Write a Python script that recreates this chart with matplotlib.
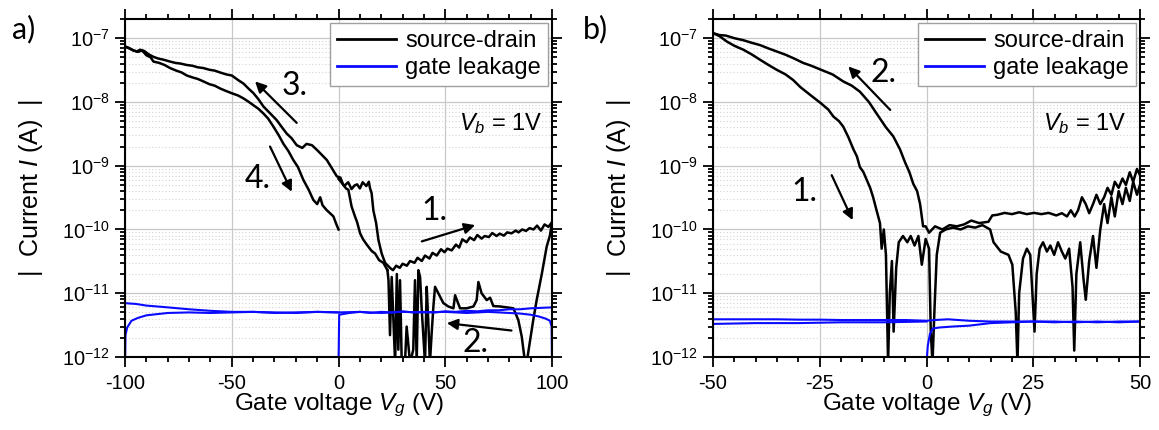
"""
Transfer curves of the two devices, source-drain and gate leakage current
"""
import matplotlib
matplotlib.use("Agg")
import matplotlib.pyplot as plt
from matplotlib.lines import Line2D
from matplotlib.ticker import MultipleLocator, LogLocator, NullFormatter

plt.rcParams['font.family'] = ['Liberation Sans', 'DejaVu Sans']
plt.rcParams['mathtext.fontset'] = 'custom'
plt.rcParams['mathtext.rm'] = 'Liberation Sans'
plt.rcParams['mathtext.it'] = 'Liberation Sans:italic'
plt.rcParams['axes.unicode_minus'] = False

SD_COLOR = "#000000"
GATE_COLOR = "#0a0aff"
GRID_COLOR = "#c8c8c8"
NOTE_FONT = ['Lato', 'DejaVu Sans']

# ---- panel a: sweeps 0 -> 100 -> -100 -> 0 V
a_fwd_v = [0, 1.5, 2.6, 4.5, 6.1, 7.5, 8.7, 10, 11.3, 13, 14.2, 14.7, 15.5, 16.3, 17.6,
           18.7, 20.2, 21.8, 24.1, 25.5, 27, 28.7, 30, 32, 33.5, 35.6, 37, 39, 40.5, 42.6,
           44, 46, 48, 49.6, 51, 53, 55, 56.5, 58, 60, 61.5, 63.5, 65, 67, 68.5, 70.4,
           72, 74, 75.5, 77.4, 79, 81, 83, 84.3, 86, 87.8, 89.5, 91.3, 93, 94.8, 96.5,
           98.3, 100]
a_fwd_i = [6.2e-10, 5.4e-10, 4.8e-10, 5.5e-10, 4.3e-10, 4.9e-10, 5.1e-10, 4.4e-10, 5.5e-10,
           4.8e-10, 5.6e-10, 4.5e-10, 3.7e-10, 2.0e-10, 1.26e-10, 6.8e-11, 4.2e-11, 3.0e-11,
           2.5e-11, 2.3e-11, 2.7e-11, 2.5e-11, 2.9e-11, 2.7e-11, 3.2e-11, 3.0e-11, 3.6e-11,
           3.2e-11, 3.9e-11, 3.5e-11, 4.3e-11, 3.9e-11, 4.9e-11, 4.4e-11, 5.0e-11, 4.7e-11,
           5.8e-11, 5.2e-11, 7.0e-11, 6.3e-11, 7.5e-11, 6.8e-11, 8.2e-11, 7.2e-11, 7.9e-11,
           7.6e-11, 8.8e-11, 7.9e-11, 8.6e-11, 8.0e-11, 9.0e-11, 8.7e-11, 9.6e-11, 9.0e-11,
           1.0e-10, 9.5e-11, 1.05e-10, 1.0e-10, 1.15e-10, 9.6e-11, 1.2e-10, 1.1e-10, 1.3e-10]

a_back_v = [100, 99, 97.5, 95.2, 92.8, 91.2, 89.7, 88.1, 87.4, 85.8, 84.2, 81.9, 78.8, 75.6,
            72.5, 71, 69.4, 67, 65.5, 64.7, 63.2, 60, 56.9, 54.6, 53.8, 51.4, 49.1, 47.5,
            45.2, 44.4, 43.6, 42.8, 42, 41.3, 40.5, 38.9, 38.2, 37.4, 36.6, 35.8, 35, 33.5,
            31.9, 31.1, 29.6, 28.8, 28, 27.3, 26.5, 24.9, 24.1, 23.4, 22.9]
a_back_i = [1.3e-10, 8e-11, 5.4e-11, 2.0e-11, 7.8e-12, 3.8e-12, 1.8e-12, 8e-13, 8e-13, 2.1e-12,
            3.8e-12, 5.8e-12, 6.0e-12, 6.2e-12, 6.3e-12, 8.5e-12, 7.8e-12, 1.0e-11, 1.5e-11,
            7.8e-12, 6.2e-12, 5.8e-12, 5.8e-12, 9.3e-12, 5.8e-12, 6.2e-12, 7.0e-12, 8.9e-12,
            1.26e-11, 6.0e-12, 2.3e-12, 8e-13, 3.8e-12, 1.26e-11, 8e-13, 6.0e-12, 1.8e-11,
            2.3e-11, 8e-13, 1.6e-11, 1.3e-12, 8e-13, 3.0e-12, 8e-13, 8e-13, 1.6e-11, 1.3e-12,
            2.0e-11, 8e-13, 1.8e-11, 2.2e-12, 1.6e-11, 2.3e-11]

a_up_v = [22.9, 21, 19, 17.1, 15.5, 13.2, 11.5, 10.1, 8.7, 7.7, 6.1, 4.6, 3.5, 2, 0.9, -0.8,
          -3, -5.5, -8, -10.2, -12.5, -15, -17, -19.6, -22, -24.3, -26.5, -29, -32, -35.2,
          -37.5, -39.9, -42, -44.6, -47, -50, -52.5, -55.5, -58, -60.5, -63.3, -66, -68.5,
          -71.1, -74, -76.5, -78.9, -82, -84.5, -86.7, -89, -91, -92.9, -94.5, -96.5, -98, -100]
a_up_i = [2.3e-11, 3.0e-11, 3.3e-11, 4.2e-11, 4.6e-11, 5.8e-11, 7.0e-11, 8.7e-11, 1.3e-10,
          1.6e-10, 2.3e-10, 4.2e-10, 4.4e-10, 5.2e-10, 6.5e-10, 6.8e-10, 9.0e-10, 1.23e-9,
          1.5e-9, 1.78e-9, 2.1e-9, 2.2e-9, 1.9e-9, 2.1e-9, 2.7e-9, 3.2e-9, 4.0e-9, 5.2e-9,
          6.6e-9, 8.5e-9, 1.1e-8, 1.38e-8, 1.6e-8, 1.95e-8, 2.2e-8, 2.6e-8, 2.7e-8, 2.9e-8,
          3.1e-8, 3.2e-8, 3.4e-8, 3.5e-8, 3.7e-8, 3.8e-8, 4.0e-8, 4.1e-8, 4.3e-8, 4.6e-8,
          4.8e-8, 5.1e-8, 5.6e-8, 6.3e-8, 6.6e-8, 6.2e-8, 6.5e-8, 6.9e-8, 7.4e-8]

a_down_v = [-100, -98, -96, -94, -92, -90, -88, -86.7, -84, -81.5, -78.9, -76, -73.5, -71.1,
            -68, -66, -63.3, -60.5, -58, -55.5, -53, -50, -47, -44.6, -42, -39.9, -37.5,
            -35.2, -33, -30.5, -28, -25.8, -23.5, -21.2, -19, -16.5, -14, -11.8, -10, -8.6,
            -7.5, -5.5, -4, -2.4, -1, 0]
a_down_i = [7.4e-8, 7.0e-8, 6.4e-8, 6.1e-8, 6.4e-8, 5.4e-8, 5.0e-8, 4.3e-8, 4.1e-8, 3.8e-8,
            3.4e-8, 3.1e-8, 2.9e-8, 2.6e-8, 2.4e-8, 2.3e-8, 2.1e-8, 1.9e-8, 1.8e-8, 1.63e-8,
            1.5e-8, 1.37e-8, 1.26e-8, 1.14e-8, 1.0e-8, 8.9e-9, 7.8e-9, 6.6e-9, 5.5e-9, 4.1e-9,
            3.0e-9, 2.2e-9, 1.7e-9, 1.23e-9, 9.5e-10, 6.0e-10, 4.2e-10, 2.9e-10, 2.5e-10,
            3.2e-10, 2.4e-10, 2.0e-10, 1.8e-10, 1.6e-10, 1.2e-10, 1.0e-10]

a_gate_fwd_v = [0, 0.3, 5, 10, 15, 20, 25, 30, 35, 40, 45, 50, 55, 60, 65, 70, 75, 80, 85,
                90, 95, 100]
a_gate_fwd_i = [8e-13, 4.6e-12, 4.9e-12, 5.1e-12, 4.9e-12, 5.1e-12, 5.0e-12, 5.2e-12, 5.0e-12,
                5.1e-12, 5.0e-12, 5.2e-12, 5.1e-12, 5.3e-12, 5.2e-12, 5.4e-12, 5.4e-12,
                5.6e-12, 5.6e-12, 5.8e-12, 5.9e-12, 6.0e-12]
a_gate_back_v = [100, 99.8, 99, 97, 94, 90, 85, 80, 75, 70, 60, 50, 40, 30, 20, 10, 0, -10,
                 -20, -30, -40, -50, -60, -70, -80, -85, -90, -95, -98, -100]
a_gate_back_i = [8e-13, 3.0e-12, 3.7e-12, 4.0e-12, 4.3e-12, 4.6e-12, 4.8e-12, 4.9e-12, 5.0e-12,
                 5.1e-12, 4.9e-12, 5.1e-12, 5.0e-12, 5.1e-12, 4.9e-12, 5.1e-12, 5.0e-12,
                 5.1e-12, 4.9e-12, 5.0e-12, 5.1e-12, 5.1e-12, 5.3e-12, 5.6e-12, 6.0e-12,
                 6.2e-12, 6.4e-12, 6.8e-12, 6.9e-12, 7.0e-12]
a_gate_down_v = [-100, -99.8, -99, -97, -94, -90, -85, -80, -70, -60, -50, -40, -30, -20, -10, 0]
a_gate_down_i = [8e-13, 2.2e-12, 2.9e-12, 3.7e-12, 4.1e-12, 4.5e-12, 4.7e-12, 4.9e-12, 5.0e-12,
                 4.9e-12, 5.0e-12, 5.1e-12, 4.9e-12, 5.0e-12, 5.1e-12, 5.0e-12]

# ---- panel b: sweeps -50 -> 50 -> -50 V
b_fwd_v = [-50, -48.5, -46.8, -45, -42.9, -41, -39, -37, -35.1, -33, -31.2, -29.5, -27.3,
           -24.7, -23, -21.8, -20.5, -19.5, -18.3, -17.1, -16.3, -15.6, -14.8, -14, -13.2,
           -12.5, -11.7, -10.9, -10.5, -10, -9.5, -9.0, -8.6, -8.1, -7.7, -7.1, -6.5, -5.5,
           -4.5, -3.7, -2.8, -1.9, -1.1, -0.2, 0.6, 1.0, 1.4, 1.9, 2.4, 3.2, 4.5, 6.2, 8, 9.7,
           11.4, 13.1, 14.9, 15.7, 17.4, 19.2, 20.1, 20.9, 21.3, 21.7, 22.6, 23.5, 24.3, 24.8,
           25.3, 25.8, 26.5, 27.3, 28.2, 29, 29.9, 30.8, 31.7, 32.5, 33.4, 34.2, 34.6, 35.1,
           36, 36.8, 37.3, 38.1, 39, 39.8, 40.7, 41.6, 42.4, 43.3, 44.1, 45, 45.9, 46.7, 47.6,
           48.4, 49.3, 50]
b_fwd_i = [1.2e-7, 1.08e-7, 8.9e-8, 7.6e-8, 6.6e-8, 5.6e-8, 4.6e-8, 3.8e-8, 3.2e-8, 2.7e-8,
           2.2e-8, 1.7e-8, 1.3e-8, 9.5e-9, 7.6e-9, 5.9e-9, 5.0e-9, 4.1e-9, 2.8e-9, 1.8e-9,
           1.4e-9, 9.5e-10, 8.0e-10, 6.0e-10, 4.5e-10, 3.2e-10, 2.0e-10, 1.26e-10, 5.0e-11,
           1.0e-10, 4.0e-11, 8e-13, 1.0e-11, 3.2e-11, 2.5e-12, 2.5e-11, 6.3e-11, 7.9e-11,
           6.3e-11, 7.9e-11, 5.6e-11, 7.9e-11, 2.8e-11, 7.1e-11, 5.0e-11, 2.5e-12, 8e-13,
           6.3e-12, 4.0e-11, 8.9e-11, 1.0e-10, 1.07e-10, 1.0e-10, 1.12e-10, 1.07e-10, 1.17e-10,
           1.0e-10, 6.3e-11, 4.5e-11, 4.0e-11, 2.8e-11, 5.0e-12, 8e-13, 1.0e-11, 3.5e-11,
           5.0e-11, 4.0e-11, 1.0e-11, 2.5e-12, 2.0e-11, 5.0e-11, 6.3e-11, 4.5e-11, 5.6e-11,
           4.0e-11, 6.3e-11, 4.5e-11, 3.5e-11, 5.0e-11, 1.26e-11, 1.26e-12, 2.0e-11, 6.3e-11,
           1.6e-11, 7.9e-12, 3.2e-11, 7.9e-11, 2.5e-11, 1.0e-10, 2.5e-10, 1.26e-10, 3.2e-10,
           1.6e-10, 4.0e-10, 2.5e-10, 4.5e-10, 2.8e-10, 5.6e-10, 3.5e-10, 5.0e-10]

b_back_v = [50, 49.3, 48.4, 47.6, 46.7, 45.9, 45, 44.1, 43.3, 42.4, 41.6, 40.7, 39.8, 39,
            38.1, 37.3, 36.4, 35.5, 34.7, 33.8, 32.9, 31.7, 30.4, 28.6, 26.9, 25.2, 23.5,
            21.7, 20, 18.3, 16.6, 15.4, 14.5, 12.3, 10.5, 8.8, 7.1, 5.4, 3.7, 2, 0.6, -0.2,
            -0.8, -1.5, -2.2, -3.1, -4, -5, -6.2, -7.8, -9.5, -11.7, -13.5, -15.6, -17.5,
            -19.5, -22, -24.7, -27, -28.9, -31, -33, -35.1, -37, -39, -41, -42.9, -45, -47,
            -48.5, -50]
b_back_i = [7.1e-10, 8.9e-10, 5.6e-10, 7.9e-10, 5.0e-10, 6.3e-10, 4.5e-10, 5.6e-10, 3.5e-10,
            4.5e-10, 3.2e-10, 2.5e-10, 3.5e-10, 2.5e-10, 1.8e-10, 2.5e-10, 3.2e-10, 2.0e-10,
            1.6e-10, 2.0e-10, 1.6e-10, 1.8e-10, 1.66e-10, 1.82e-10, 1.74e-10, 1.82e-10,
            1.74e-10, 1.86e-10, 1.74e-10, 1.82e-10, 1.7e-10, 1.66e-10, 1.32e-10, 1.26e-10,
            1.38e-10, 1.2e-10, 1.12e-10, 1.17e-10, 1.0e-10, 1.12e-10, 8.9e-11, 1.12e-10,
            1.12e-10, 2.5e-10, 4.0e-10, 5.2e-10, 7.9e-10, 1.12e-9, 1.8e-9, 2.9e-9, 4.0e-9,
            6.6e-9, 1.0e-8, 1.45e-8, 1.8e-8, 2.1e-8, 2.7e-8, 3.2e-8, 3.7e-8, 4.1e-8, 4.8e-8,
            5.5e-8, 6.2e-8, 6.9e-8, 7.8e-8, 8.5e-8, 9.3e-8, 1.0e-7, 1.1e-7, 1.12e-7, 1.2e-7]

b_gate_fwd_v = [0, 0.3, 0.8, 1.5, 3, 6, 10, 15, 20, 25, 30, 35, 40, 45, 50]
b_gate_fwd_i = [8e-13, 1.5e-12, 2.3e-12, 2.8e-12, 2.9e-12, 3.0e-12, 3.1e-12, 3.4e-12, 3.5e-12,
                3.6e-12, 3.5e-12, 3.6e-12, 3.5e-12, 3.6e-12, 3.6e-12]
b_gate_back_v = [50, 45, 40, 35, 30, 25, 20, 15, 10, 5, 2, 0, -5, -10, -15, -20, -25, -30,
                 -35, -40, -45, -50]
b_gate_back_i = [3.6e-12, 3.5e-12, 3.6e-12, 3.5e-12, 3.6e-12, 3.6e-12, 3.6e-12, 3.6e-12,
                 3.7e-12, 3.9e-12, 3.8e-12, 3.7e-12, 3.8e-12, 3.8e-12, 3.8e-12, 3.8e-12,
                 3.85e-12, 3.85e-12, 3.9e-12, 3.9e-12, 3.9e-12, 3.9e-12]
b_gate_down_v = [-50, -40, -30, -20, -10, 0]
b_gate_down_i = [3.3e-12, 3.4e-12, 3.4e-12, 3.5e-12, 3.5e-12, 3.6e-12]


def style_axes(ax, xlim, major, minor):
    ax.set_yscale('log')
    ax.set_xlim(*xlim)
    ax.set_ylim(1e-12, 2e-7)
    ax.xaxis.set_major_locator(MultipleLocator(major))
    ax.xaxis.set_minor_locator(MultipleLocator(minor))
    ax.yaxis.set_major_locator(LogLocator(base=10, numticks=10))
    ax.yaxis.set_minor_locator(LogLocator(base=10, subs=range(2, 10), numticks=20))
    ax.yaxis.set_minor_formatter(NullFormatter())

    ax.set_axisbelow(True)
    ax.grid(which='major', color=GRID_COLOR, lw=0.9)
    ax.yaxis.grid(which='minor', color='#d4d4d4', ls=(0, (1, 2)), lw=0.8)

    for spine in ax.spines.values():
        spine.set_linewidth(1.5)
    ax.tick_params(which='both', direction='out', top=True, right=True,
                   width=1.3, labelsize=14.5)
    ax.tick_params(which='major', length=7)
    ax.tick_params(which='minor', length=3.5)
    ax.tick_params(axis='x', which='major', pad=5)
    ax.tick_params(axis='y', which='major', pad=4)

    ax.set_xlabel(r'Gate voltage $V_g$ (V)', fontsize=17.5, labelpad=-1)
    ax.set_ylabel(r'|  Current $I$ (A)  |', fontsize=18, labelpad=12)


def add_arrow(ax, tail, head):
    ax.annotate('', xy=head, xytext=tail,
                arrowprops=dict(arrowstyle='-|>', color='k', lw=1.6,
                                mutation_scale=16, shrinkA=0, shrinkB=0))


def add_note(ax, text, xy):
    ax.text(xy[0], xy[1], text, fontsize=23, family=NOTE_FONT,
            ha='center', va='center')


def add_legend(ax):
    handles = [Line2D([], [], color=SD_COLOR, lw=2),
               Line2D([], [], color=GATE_COLOR, lw=2)]
    leg = ax.legend(handles, ['source-drain', 'gate leakage'], loc='upper right',
                    fontsize=17, fancybox=False, framealpha=1, edgecolor='#a0a0a0',
                    borderaxespad=0.17, handlelength=2.5, handletextpad=0.4,
                    labelspacing=0.2, borderpad=0.3)
    leg.get_frame().set_linewidth(1.0)


fig = plt.figure(figsize=(11.59, 4.30), dpi=100)
ax_a = fig.add_axes([0.1079, 0.1698, 0.3684, 0.786])
ax_b = fig.add_axes([0.6152, 0.1698, 0.3684, 0.786])

# panel a
for vs, cs in [(a_fwd_v, a_fwd_i), (a_back_v, a_back_i),
               (a_up_v, a_up_i), (a_down_v, a_down_i)]:
    ax_a.plot(vs, cs, color=SD_COLOR, lw=1.8)
for vs, cs in [(a_gate_fwd_v, a_gate_fwd_i), (a_gate_back_v, a_gate_back_i),
               (a_gate_down_v, a_gate_down_i)]:
    ax_a.plot(vs, cs, color=GATE_COLOR, lw=1.5)

style_axes(ax_a, (-100, 100), 50, 10)
add_legend(ax_a)
ax_a.text(0.978, 0.692, r'$V_b$ = 1V', transform=ax_a.transAxes,
          fontsize=17, ha='right', va='center')

add_arrow(ax_a, (39, 6.5e-11), (64, 1.17e-10))
add_note(ax_a, '1.', (45, 1.95e-10))
add_arrow(ax_a, (81, 2.6e-12), (50.7, 3.4e-12))
add_note(ax_a, '2.', (64, 1.66e-12))
add_arrow(ax_a, (-19.6, 4.7e-9), (-39.1, 2.1e-8))
add_note(ax_a, '3.', (-20.4, 1.8e-8))
add_arrow(ax_a, (-32.1, 2.0e-9), (-21.9, 3.9e-10))
add_note(ax_a, '4.', (-37.7, 6.2e-10))

# panel b
for vs, cs in [(b_fwd_v, b_fwd_i), (b_back_v, b_back_i)]:
    ax_b.plot(vs, cs, color=SD_COLOR, lw=1.8)
for vs, cs in [(b_gate_fwd_v, b_gate_fwd_i), (b_gate_back_v, b_gate_back_i),
               (b_gate_down_v, b_gate_down_i)]:
    ax_b.plot(vs, cs, color=GATE_COLOR, lw=1.5)

style_axes(ax_b, (-50, 50), 25, 5)
add_legend(ax_b)
ax_b.text(0.967, 0.692, r'$V_b$ = 1V', transform=ax_b.transAxes,
          fontsize=17, ha='right', va='center')

add_arrow(ax_b, (-22.2, 7.1e-10), (-17.3, 1.4e-10))
add_note(ax_b, '1.', (-28.7, 3.9e-10))
add_arrow(ax_b, (-8.5, 7.5e-9), (-18.3, 3.6e-8))
add_note(ax_b, '2.', (-10, 2.8e-8))

fig.text(0.010, 0.965, 'a)', fontsize=22, family=NOTE_FONT, ha='left', va='top')
fig.text(0.503, 0.965, 'b)', fontsize=22, family=NOTE_FONT, ha='left', va='top')

fig.savefig('out.png', dpi=100)
